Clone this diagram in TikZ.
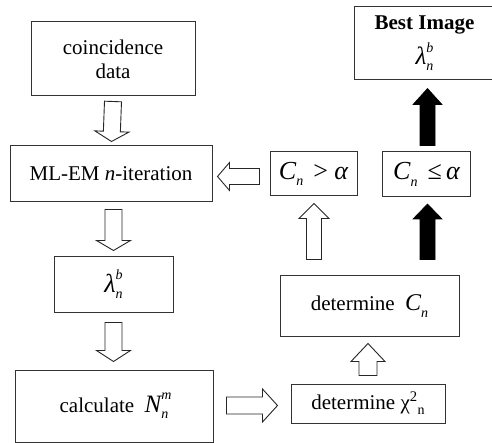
\documentclass[tikz,border=0pt]{standalone}
\usepackage{fontspec}
\setmainfont{Liberation Serif}
\usetikzlibrary{calc}

% italic symbol at a larger size, with lowered / stacked indices
\newcommand\bigsym[2][24]{{\fontsize{#1}{#1}\selectfont\itshape #2}}
\newcommand\lowsub[1]{\raisebox{-0.3em}{\fontsize{14}{14}\selectfont\itshape #1}}
\newcommand\subsup[2]{%
  \makebox[0pt][l]{\raisebox{0.6em}{\fontsize{14}{14}\selectfont\itshape #1}}%
  \raisebox{-0.3em}{\fontsize{14}{14}\selectfont\itshape #2}}

\tikzset{
  x=1pt, y=-1pt,
  box/.style={draw=black!80, line width=1pt, fill=white, inner sep=0pt,
    align=center, font=\fontsize{21}{24}\selectfont},
  % wide block arrow: shaft half width, head half width, head length
  blockarrow/.style n args={3}{
    to path={let \p1=(\tikztostart), \p2=(\tikztotarget),
      \n1={veclen(\x2-\x1,\y2-\y1)}, \n2={(\x2-\x1)/\n1},
      \n3={(\y2-\y1)/\n1}, \n4={\n1-#3} in
      ({\x1-\n3*#1},{\y1+\n2*#1})
      -- ({\x1+\n2*\n4-\n3*#1},{\y1+\n3*\n4+\n2*#1})
      -- ({\x1+\n2*\n4-\n3*#2},{\y1+\n3*\n4+\n2*#2})
      -- (\p2)
      -- ({\x1+\n2*\n4+\n3*#2},{\y1+\n3*\n4-\n2*#2})
      -- ({\x1+\n2*\n4+\n3*#1},{\y1+\n3*\n4-\n2*#1})
      -- ({\x1+\n3*#1},{\y1-\n2*#1}) -- cycle}},
  hollow/.style={draw=black!85, line width=0.9pt, fill=white, line join=miter},
  solid/.style={draw=black, line width=0.6pt, fill=black, line join=miter}
}

\begin{document}
\begin{tikzpicture}
\fill[white] (0,0) rectangle (492,443);
\useasboundingbox (0,0) rectangle (492,443);

% boxes
\node[box, minimum width=164pt, minimum height=74pt] (data) at (113,59)
  {coincidence\\data};
\node[box, minimum width=202pt, minimum height=56pt] (mlem) at (111,174)
  {ML-EM \textit{n}-iteration};
\node[box, minimum width=119pt, minimum height=55pt] (lam) at (113.5,284.5)
  {\bigsym[26]{λ}\subsup{b}{n}};
\node[box, minimum width=198pt, minimum height=72pt] (calc) at (114,406)
  {calculate\ \ \bigsym[25]{N}\subsup{m}{n}};
\node[box, minimum width=154pt, minimum height=39pt] (chi) at (368,403.5)
  {determine χ\textsuperscript{2}\raisebox{-0.25em}{\fontsize{14}{14}\selectfont n}};
\node[box, minimum width=179pt, minimum height=60pt] (detC) at (369.5,306)
  {determine\ \ \bigsym{C}\lowsub{n}};
\node[box, minimum width=87pt, minimum height=44pt] (cgt) at (313.5,174)
  {\bigsym[26]{C}\lowsub{n}\,{\fontsize{26}{26}\selectfont\ >\ \itshape α}};
\node[box, minimum width=88pt, minimum height=45pt] (cle) at (426.5,174.5)
  {\bigsym[26]{C}\lowsub{n}\,{\fontsize{26}{26}\selectfont\ ≤\,\itshape α}};
\node[box, minimum width=141pt, minimum height=73pt] (best) at (424.5,43.5)
  {\textbf{Best Image}\\[7pt]\bigsym[25]{λ}\subsup{b}{n}};

% hollow block arrows
\draw[hollow, blockarrow={8.5}{17}{10}]
  ($(data.south)+(0,5)$) to ($(mlem.north |- data.south)+(0.5,45)$);
\draw[hollow, blockarrow={8.5}{17}{10}]
  ($(lam.north)+(0,-47)$) to ($(lam.north)+(0,-6)$);
\draw[hollow, blockarrow={8.5}{17}{11}]
  ($(lam.south)+(0,10)$) to ($(lam.south |- calc.north)+(0,-8)$);
\draw[hollow, blockarrow={8.5}{16.5}{15}]
  ($(calc.east |- chi.west)+(13,2)$) to ($(chi.west)+(-13,2)$);
\draw[hollow, blockarrow={9}{17}{18}]
  ($(chi.north)+(0,-8)$) to ($(chi.north |- detC.south)+(0,7)$);
\draw[hollow, blockarrow={7.5}{15}{15}]
  ($(cgt.south |- detC.north)+(0.5,-16)$) to ($(cgt.south)+(0.5,7)$);
\draw[hollow, blockarrow={8}{14}{12}]
  ($(cgt.west)+(-10,2.5)$) to ($(mlem.east |- cgt.west)+(5,2.5)$);

% solid block arrows
\draw[solid, blockarrow={7.5}{14.5}{15}]
  ($(cle.south |- detC.north)+(1,-16)$) to ($(cle.south)+(1,6.5)$);
\draw[solid, blockarrow={7.5}{14.5}{16}]
  ($(cle.north)+(1,-6)$) to ($(cle.north |- best.south)+(1,8)$);
\end{tikzpicture}
\end{document}
